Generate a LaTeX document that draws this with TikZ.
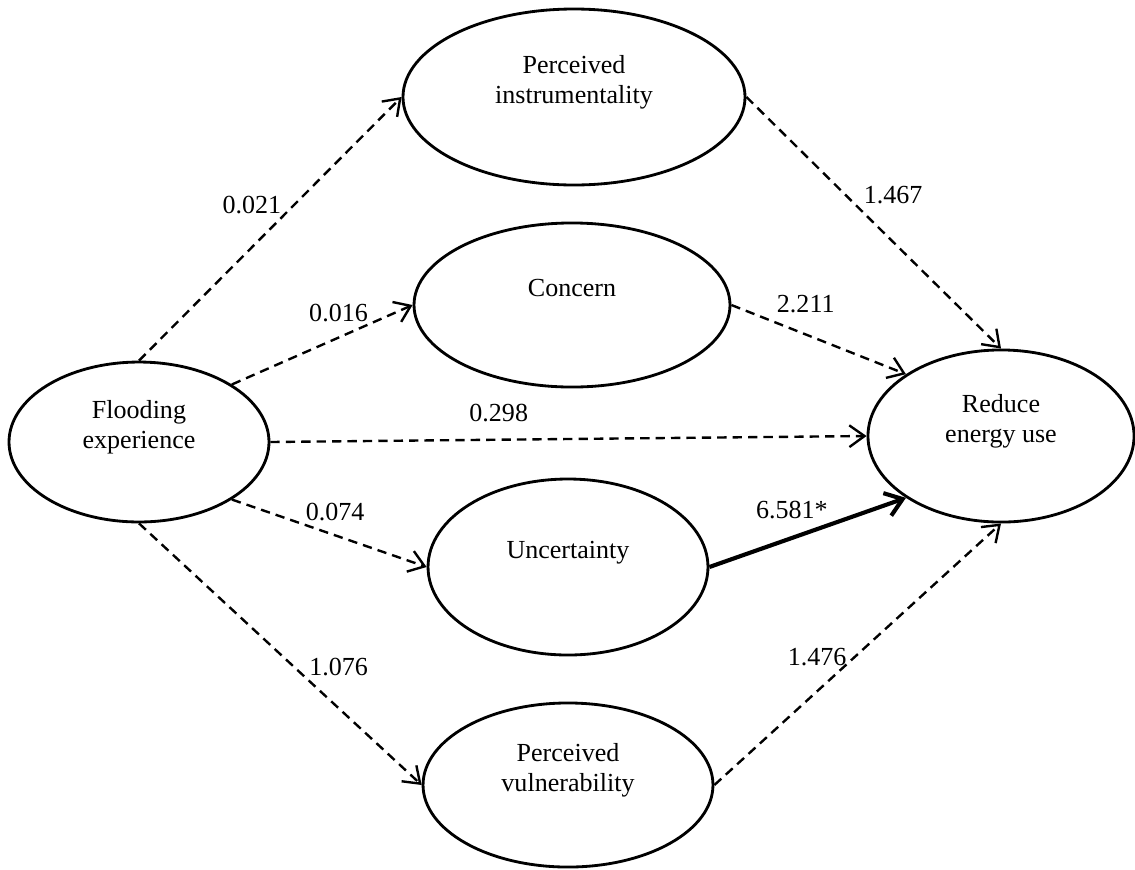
\documentclass[tikz,border=0pt]{standalone}
\usepackage{fontspec}
\setmainfont{Liberation Serif}
\usetikzlibrary{shapes.geometric,arrows.meta,positioning}
\newcommand{\ovaltext}[1]{\raisebox{6.5pt}[\height][\depth]{\begin{tabular}{@{}c@{}}#1\end{tabular}}}
\tikzset{
latent/.style={ellipse,draw=black,line width=1.3pt,inner sep=0pt,
  font=\fontsize{12pt}{13.8pt}\selectfont},
pathdash/.style={line width=1.1pt,dash pattern=on 4.3pt off 2.8pt,
  -{Straight Barb[length=7pt,width=10pt]}},
pathsig/.style={line width=1.9pt,-{Straight Barb[length=7.5pt,width=11pt]}},
coef/.style={font=\fontsize{12pt}{13.8pt}\selectfont}
}

\begin{document}
\begin{tikzpicture}[x=0.4608pt,y=-0.4608pt]
\useasboundingbox (0,0) rectangle (1135,869);
\node[latent,minimum width=119.8pt,minimum height=73.7pt] (flood) at (139,442) {\ovaltext{Flooding\\experience}};
\node[latent,minimum width=157.6pt,minimum height=81.1pt] (instr) at (574,97) {\ovaltext{Perceived\\instrumentality}};
\node[latent,minimum width=145.6pt,minimum height=75.6pt] (concern) at (572,305) {\ovaltext{Concern}};
\node[latent,minimum width=129.0pt,minimum height=81.1pt] (uncert) at (568,567) {\ovaltext{Uncertainty}};
\node[latent,minimum width=133.6pt,minimum height=75.6pt] (vuln) at (568,785) {\ovaltext{Perceived\\vulnerability}};
\node[latent,minimum width=122.6pt,minimum height=79.3pt] (energy) at (1001,436) {\ovaltext{Reduce\\energy use}};
% paths from flooding experience
\draw[pathdash] (flood.north) -- node[coef,pos=.59,left=2pt] (c1) {0.021} (instr.west);
\draw[pathdash] (flood.north east) -- node[coef,pos=.59,above=3.5pt] (c2) {0.016} (concern.west);
\draw[pathdash] (flood.east) -- node[coef,pos=.383,above=4.5pt] (c3) {0.298} (energy.west);
\draw[pathdash] (flood.south east) -- node[coef,pos=.53,above=3pt] (c4) {0.074} (uncert.west);
\draw[pathdash] (flood.south) -- node[coef,pos=.55,right=3pt] (c5) {1.076} (vuln.west);
% paths to reduce energy use
\draw[pathdash] (instr.east) -- node[coef,pos=.39,right=4.5pt] (c6) {1.467} (energy.north);
\draw[pathdash] (concern.east) -- node[coef,pos=.426,above=6pt] (c7) {2.211} (energy.north west);
\draw[pathsig] (uncert.east) -- node[coef,pos=.42,above=4.3pt] (c8) {6.581*} (energy.south west);
\draw[pathdash] (vuln.east) -- node[coef,pos=.49,left] (c9) {1.476} (energy.south);
\end{tikzpicture}
\end{document}
